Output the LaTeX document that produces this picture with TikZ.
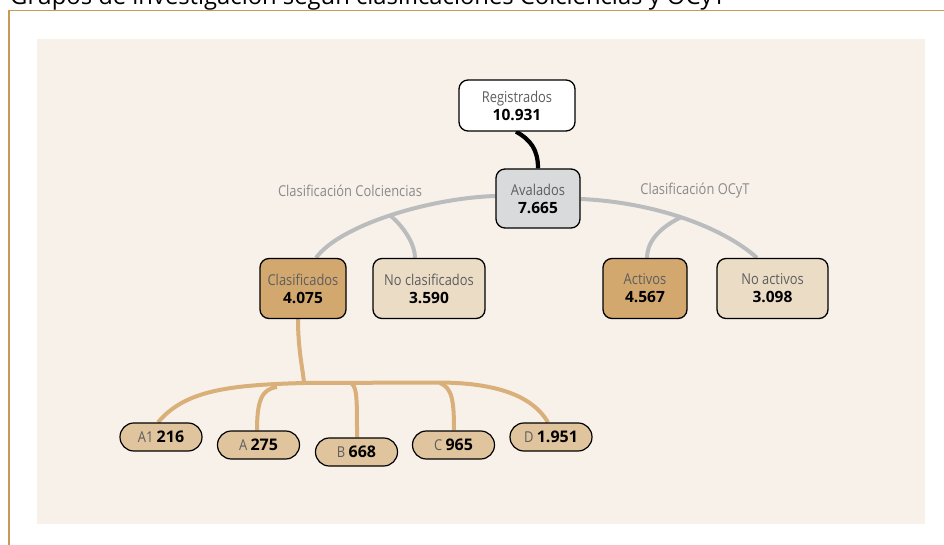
\documentclass[tikz,border=0pt]{standalone}
\usepackage{fontspec}
\setmainfont{Open Sans}[FakeStretch=0.86]
\newfontfamily\plainfont{Open Sans}
\usetikzlibrary{backgrounds}
\definecolor{panel}{HTML}{F8F1EA}
\definecolor{framec}{HTML}{C99A55}
\definecolor{avalc}{HTML}{D9DADC}
\definecolor{darktan}{HTML}{D3A86F}
\definecolor{lighttan}{HTML}{EBDCC6}
\definecolor{leafc}{HTML}{DFC49D}
\definecolor{tanline}{HTML}{D9B07A}
\definecolor{grayline}{HTML}{BBBCBE}
\definecolor{lbl}{HTML}{5E5E5E}
\definecolor{grouplbl}{HTML}{8A8A8A}
\newcommand\cardtxt[2]{{\color{lbl}#1}\\{\plainfont\bfseries\fontsize{15.5}{18}\selectfont #2}}
\newcommand\leaftxt[2]{{\color{lbl}#1} {\plainfont\bfseries\fontsize{16}{18}\selectfont #2}}
\tikzset{
  card/.style={draw=black, line width=1.3pt, rounded corners=9pt, inner sep=0pt, align=center,
    font=\fontsize{15}{18}\selectfont},
  leaf/.style={draw=black, line width=1.2pt, rounded corners=13.9pt, inner sep=0pt, fill=leafc,
    minimum width=82pt, minimum height=28pt, font=\fontsize{15}{18}\selectfont},
  grayconn/.style={draw=grayline, line width=4pt},
  tanconn/.style={draw=tanline, line width=4pt},
  blackconn/.style={draw=black, line width=4.2pt},
  grouplabel/.style={text=grouplbl, font=\fontsize{15}{17}\selectfont, inner sep=0pt}
}
\begin{document}
\begin{tikzpicture}[x=1pt,y=-1pt]
\useasboundingbox (0,0) rectangle (944,545);
\node[anchor=base west, font=\plainfont\fontsize{23.8}{28}\selectfont, inner sep=0pt] (title) at (10,4.5)
  {Grupos de investigación según clasificaciones Colciencias y OCyT};

% group labels
\node[grouplabel] (lcol) at (350,191) {Clasificación Colciencias};
\node[grouplabel] (locyt) at (695,191) {Clasificación OCyT};

% nodes
\node[card, fill=white, minimum width=116pt, minimum height=51pt] (reg) at (517,105.5) {\cardtxt{Registrados}{10.931}};
\node[card, fill=avalc, minimum width=84pt, minimum height=59pt] (aval) at (538,198.5) {\cardtxt{Avalados}{7.665}};
\node[card, fill=darktan, minimum width=86pt, minimum height=60pt] (clas) at (303,288.5) {\cardtxt{Clasificados}{4.075}};
\node[card, fill=lighttan, minimum width=112pt, minimum height=60pt] (nocl) at (429,288.5) {\cardtxt{No clasificados}{3.590}};
\node[card, fill=darktan, minimum width=84pt, minimum height=60pt] (act) at (645,288.5) {\cardtxt{Activos}{4.567}};
\node[card, fill=lighttan, minimum width=111pt, minimum height=60pt] (noact) at (772.5,288.5) {\cardtxt{No activos}{3.098}};

\node[leaf] (a1) at (161,437) {\leaftxt{A1}{216}};
\node[leaf] (a) at (258.5,445) {\leaftxt{A}{275}};
\node[leaf] (b) at (356.5,452) {\leaftxt{B}{668}};
\node[leaf] (c) at (453.5,445) {\leaftxt{C}{965}};
\node[leaf] (d) at (551,437) {\leaftxt{D}{1.951}};

\begin{scope}[on background layer]
\fill[panel] (37,39) rectangle (925,524);
\draw[framec, line width=1.5pt] (9,545) -- (9,10.5) -- (944,10.5);

% gray connectors
\path[grayconn] (clas.north -| 316,0) .. controls (340,225) and (430,198) .. coordinate[pos=0.5] (jL) (aval.west |- 0,196);
\path[grayconn] (aval.east |- 0,199) .. controls (650,202) and (720,225) .. coordinate[pos=0.5] (jR) (noact.north -| 757,0);
\draw[grayconn] (jL) .. controls (405,228) and (415,245) .. (nocl.north -| 415,0);
\draw[grayconn] (jR) .. controls (655,230) and (647,245) .. (act.north -| 647,0);

% black connector
\draw[blackconn] (reg.south -| 516,0) .. controls (531,140) and (538,150) .. (aval.north);

% tan connectors
\coordinate (hub) at (304,383);
\draw[tanconn] (clas.south -| 298,0) .. controls (298,350) and (303,370) .. (hub);
\draw[tanconn] (a1.north -| 158,0) .. controls (185,390) and (230,385) .. (hub) -- (440,382.5)
  .. controls (505,383) and (535,400) .. (d.north -| 548,0);
\draw[tanconn] (a.north -| 257,0) .. controls (257,400) and (262,389) .. (277,387);
\draw[tanconn] (b.north -| 357,0) .. controls (357,400) and (357,388) .. (352,384);
\draw[tanconn] (c.north -| 454,0) .. controls (454,400) and (452,388) .. (440,383);
\end{scope}
\end{tikzpicture}
\end{document}
